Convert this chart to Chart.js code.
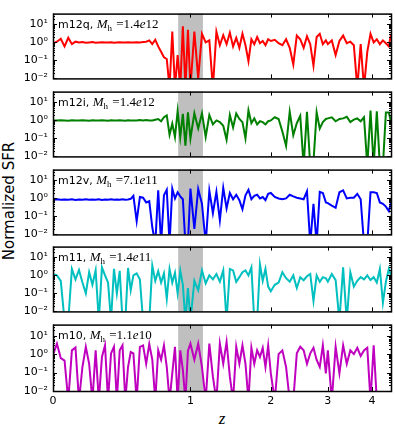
<!DOCTYPE html>
<html>
<head>
<meta charset="utf-8">
<script src="https://cdn.jsdelivr.net/npm/chart.js@4.4.1/dist/chart.umd.min.js"></script>
<style>
  body { margin: 0; background: #fff; }
  #wrap { position: relative; width: 395px; height: 430px; background: #fff; overflow: hidden; }
  #wrap canvas { position: absolute; left: 0; }
  .ytitle { position: absolute; left: 9px; top: 201px; transform: translate(-50%, -50%) rotate(-90deg);
            font: 15px "DejaVu Sans"; white-space: nowrap; color: #000; }
  .xtitle { position: absolute; left: 222px; top: 419px; transform: translate(-50%, -50%);
            font: italic 17px "Liberation Serif"; color: #000; }
</style>
</head>
<body>
<div id="wrap">
  <div class="ytitle">Normalized SFR</div>
  <div class="xtitle">z</div>
</div>
<script>
// redshift of each sample (shared by all panels)
const redshift = [
  0, 0.02, 0.04, 0.06, 0.08, 0.1, 0.12, 0.14, 0.16, 0.18, 0.2, 0.22, 0.24, 0.26, 0.28, 0.3, 0.32, 0.34, 0.36, 0.38, 0.4, 0.42, 0.44, 0.46, 0.48,
  0.5, 0.525, 0.55, 0.575, 0.6, 0.625, 0.65, 0.675, 0.7, 0.725, 0.75, 0.775, 0.8, 0.825, 0.85, 0.875, 0.9, 0.925, 0.95, 0.975,
  1.0, 1.04, 1.08, 1.12, 1.16, 1.2, 1.24, 1.28, 1.32, 1.36, 1.4, 1.44, 1.48, 1.52, 1.56, 1.6, 1.64, 1.68, 1.72, 1.76, 1.8, 1.84, 1.88, 1.92, 1.96,
  2.0, 2.06, 2.12, 2.18, 2.24, 2.3, 2.36, 2.42, 2.48, 2.54, 2.6, 2.66, 2.72, 2.78, 2.84, 2.9, 2.96,
  3.0, 3.08, 3.16, 3.24, 3.32, 3.4, 3.48, 3.56, 3.64, 3.72, 3.8, 3.88, 3.96, 4.04, 4.12, 4.2, 4.28, 4.36, 4.44, 4.5
];

// normalized SFR per halo (values below 0.01 fall off the bottom of the panel)
const sfrM12q = [
  0.9, 1.1, 1.6, 0.6, 1.8, 0.8, 1.1, 1.0, 1.05, 0.95, 1.0, 1.05, 0.97, 1.0, 1.03, 0.98, 1.0, 1.02, 0.97, 1.0, 1.03, 0.98, 1.0, 1.02, 0.98,
  1.0, 1.03, 1.0, 1.05, 1.1, 1.3, 0.8, 1.4, 0.6, 0.3, 0.15, 0.12, 0.003, 4, 0.003, 0.2, 0.003, 8, 0.003, 5,
  0.003, 4, 0.01, 3, 1, 1.3, 0.003, 4, 0.7, 2.5, 0.8, 3.5, 0.6, 1.8, 0.5, 3, 0.7, 0.09, 1.5, 0.8, 2, 0.9, 1.2, 0.7, 1.5,
  1.2, 1.4, 0.9, 0.7, 1.5, 0.5, 0.06, 2.4, 1.5, 0.5, 2.2, 0.8, 0.05, 2, 3, 0.8, 1.3,
  0.8, 1.3, 0.2, 1.2, 2.4, 0.9, 1.1, 0.7, 0.003, 0.8, 0.003, 0.3, 3, 1, 1.5, 0.8, 1.3, 0.9, 0.6, 3
];
const sfrM12i = [
  1.0, 0.98, 1.02, 1.0, 0.97, 1.03, 1.0, 0.98, 1.02, 1.0, 0.97, 1.03, 1.0, 0.98, 1.02, 1.0, 0.97, 1.03, 1.0, 0.98, 1.02, 1.0, 0.97, 1.03, 1.0,
  1.0, 0.98, 1.05, 1.0, 1.05, 1.0, 1.0, 1.1, 1.2, 0.9, 1.5, 1.9, 0.16, 0.66, 0.12, 3.4, 0.12, 2.3, 0.04, 2.8,
  0.1, 2.5, 0.36, 2.5, 0.12, 2, 0.6, 1.0, 0.8, 0.5, 0.085, 2, 0.4, 2.4, 1.2, 0.8, 0.1, 3.6, 0.7, 1.3, 0.6, 0.9, 0.8, 0.6, 0.9,
  1.0, 1.5, 1.2, 0.24, 0.038, 3, 0.15, 0.7, 1.8, 0.003, 3, 0.003, 0.005, 2.8, 0.35, 0.8, 1.2,
  1.3, 1.5, 0.9, 1.2, 1.3, 1.6, 0.8, 1.1, 1.3, 0.9, 1.5, 0.003, 3.5, 0.003, 3.2, 0.003, 0.003, 2.8, 2.8, 0.8
];
const sfrM12v = [
  0.85, 0.9, 0.85, 0.88, 0.85, 0.9, 0.83, 0.88, 0.85, 0.9, 0.85, 0.88, 0.85, 0.9, 0.83, 0.88, 0.85, 0.9, 0.85, 0.88, 0.85, 0.9, 0.85, 0.88, 0.95,
  1.4, 0.055, 1.2, 1.1, 0.6, 0.7, 0.025, 0.003, 2.8, 0.003, 1.5, 3, 0.003, 3.5, 1.0, 2.2, 1.3, 0.9, 0.003, 0.003,
  3.5, 0.02, 3.3, 0.5, 0.003, 2.7, 0.15, 2.3, 0.06, 3.9, 0.28, 2, 0.9, 1.6, 0.8, 0.25, 1.5, 3, 0.9, 1.4, 1.6, 1.0, 1.2, 0.8, 1.8,
  2, 1.2, 1.0, 0.9, 1.0, 1.6, 1.3, 1.1, 1.0, 0.9, 2.5, 0.003, 0.5, 0.003, 2.3, 2, 0.6,
  0.55, 0.4, 0.3, 2.2, 2.8, 1.0, 1.1, 1.1, 1.8, 0.9, 0.003, 0.003, 2.2, 2.2, 2, 0.6, 0.5, 0.35, 0.2, 0.6
];
const sfrM11 = [
  1.2, 1.0, 0.5, 0.003, 0.003, 2.3, 0.6, 2.0, 0.4, 0.1, 1.5, 0.3, 1.9, 0.003, 2.8, 1.0, 0.4, 0.003, 2.3, 0.1, 1.8, 0.003, 0.003, 2.6, 0.15,
  1.0, 1.3, 0.6, 0.003, 0.003, 0.003, 3.5, 0.5, 1.7, 0.4, 1.3, 0.05, 2.3, 0.4, 1.4, 0.1, 1.8, 0.3, 0.003, 0.2,
  0.003, 0.5, 0.15, 1.9, 0.36, 1.0, 0.6, 1.2, 0.45, 1.9, 0.003, 2.3, 1.9, 0.44, 0.8, 1.5, 1.9, 1.0, 2.8, 0.003, 0.003, 4.2, 0.5, 2.3, 0.24,
  0.13, 0.3, 0.4, 1.5, 0.7, 0.45, 1.0, 0.2, 0.8, 0.54, 0.9, 1.2, 0.038, 1.0, 0.44, 0.8, 0.7,
  0.45, 1.2, 0.55, 0.003, 2.8, 0.003, 1.5, 0.24, 0.5, 0.8, 0.6, 1.0, 0.55, 0.8, 0.4, 2.3, 0.03, 0.45, 2.3, 1.0
];
const sfrM10 = [
  0.9, 3.7, 0.6, 0.45, 0.003, 1.6, 2.3, 0.003, 0.2, 2.5, 0.3, 0.003, 1.6, 0.003, 0.7, 3.0, 0.003, 1.1, 2.5, 0.003, 1.6, 3, 0.003, 0.2, 1.3,
  1.1, 0.003, 2.5, 3, 0.3, 3.5, 0.5, 0.003, 1.6, 0.5, 3, 0.2, 0.003, 0.09, 2.5, 0.003, 1.6, 0.14, 0.003, 1.5,
  3.7, 0.5, 3.7, 0.2, 0.003, 3.7, 0.06, 0.003, 3.7, 0.3, 4.6, 0.06, 0.003, 2.5, 0.3, 3, 0.3, 0.003, 2.2, 0.3, 1.6, 0.7, 2.2, 0.2, 3,
  0.09, 0.003, 1.0, 1.6, 0.2, 0.003, 0.003, 1.1, 2.5, 1.6, 0.3, 1.1, 2.2, 0.48, 0.2, 3, 0.09,
  1.6, 0.003, 2.5, 0.09, 3, 0.3, 1.6, 1.0, 2.2, 0.8, 1.6, 2.2, 0.003, 3, 0.003, null, null, null, null, null
];

const haloNames = ['m12q', 'm12i', 'm12v', 'm11', 'm10'];
const haloMasses = ['1.4e12', '1.4e12', '7.1e11', '1.4e11', '1.1e10'];
const haloSeries = [sfrM12q, sfrM12i, sfrM12v, sfrM11, sfrM10];
const haloColors = ['#ff0000', '#008000', '#0000ff', '#00bfbf', '#bf00bf'];

const zTicks = [0, 1, 2, 3, 4];
const zMax = 4.5;
const yTickValues = [0.01, 0.1, 1, 10];
const yTickLabels = ['10⁻²', '10⁻¹', '10⁰', '10¹'];
const yMin = 0.01, yMax = 40;
const bandZ = [0.88, 1.13];

// x axis is linear in log10(1+z)
const lz = z => Math.log10(1 + z);

Chart.defaults.font.family = 'DejaVu Sans';
Chart.defaults.font.size = 10;
Chart.defaults.color = '#000';

const panelTops = [12, 90, 168, 245, 323];
const panelH = 68;
const pad = 10;
const xAxisH = 30;

const bandPlugin = {
  id: 'band',
  beforeDatasetsDraw(chart) {
    const { ctx, chartArea: a, scales: { x } } = chart;
    const x1 = x.getPixelForValue(lz(bandZ[0]));
    const x2 = x.getPixelForValue(lz(bandZ[1]));
    ctx.save();
    ctx.fillStyle = '#bfbfbf';
    ctx.fillRect(x1, a.top, x2 - x1, a.bottom - a.top);
    ctx.restore();
  }
};

// matplotlib-like frame with inward ticks on all four sides
const framePlugin = {
  id: 'frame',
  afterDatasetsDraw(chart) {
    const { ctx, chartArea: a, scales: { x, y } } = chart;
    ctx.save();
    ctx.strokeStyle = '#000';
    ctx.lineWidth = 1;
    ctx.beginPath();
    zTicks.forEach(z => {
      const px = Math.round(x.getPixelForValue(lz(z))) + 0.5;
      ctx.moveTo(px, a.top); ctx.lineTo(px, a.top + 4);
      ctx.moveTo(px, a.bottom); ctx.lineTo(px, a.bottom - 4);
    });
    for (let d = 0.01; d <= 10; d *= 10) {
      for (let m = 1; m <= 9; m++) {
        const v = d * m;
        if (v > yMax) break;
        const py = Math.round(y.getPixelForValue(v)) + 0.5;
        const len = m === 1 ? 4 : 2;
        ctx.moveTo(a.left, py); ctx.lineTo(a.left + len, py);
        ctx.moveTo(a.right, py); ctx.lineTo(a.right - len, py);
      }
    }
    ctx.stroke();
    ctx.lineWidth = 1.5;
    ctx.strokeRect(a.left + 0.5, a.top + 0.5, a.right - a.left, a.bottom - a.top);
    ctx.restore();
  }
};

const labelPlugin = {
  id: 'panelLabel',
  afterDraw(chart, args, opts) {
    const { ctx, chartArea: a } = chart;
    const parts = [
      { t: opts.name + ', ', f: '11px "DejaVu Sans"', dy: 0 },
      { t: 'M', f: 'italic 13px "Liberation Serif"', dy: 0 },
      { t: 'h', f: '9px "Liberation Serif"', dy: 3 },
      { t: ' =', f: '13px "Liberation Serif"', dy: 0 },
      { t: opts.mass.split('e')[0], f: '13px "Liberation Serif"', dy: 0 },
      { t: 'e', f: 'italic 13px "Liberation Serif"', dy: 0 },
      { t: opts.mass.split('e')[1], f: '13px "Liberation Serif"', dy: 0 }
    ];
    ctx.save();
    ctx.fillStyle = '#000';
    ctx.textBaseline = 'alphabetic';
    let px = a.left + 5;
    const base = a.top + 14;
    parts.forEach(p => {
      ctx.font = p.f;
      ctx.fillText(p.t, px, base + p.dy);
      px += ctx.measureText(p.t).width + (p.t === 'h' ? 1 : 0);
    });
    ctx.restore();
  }
};

const wrap = document.getElementById('wrap');

haloSeries.forEach((series, p) => {
  const last = p === haloSeries.length - 1;
  const canvas = document.createElement('canvas');
  const h = pad + panelH + (last ? xAxisH : pad);
  canvas.width = 395;
  canvas.height = h;
  canvas.style.top = (panelTops[p] - pad) + 'px';
  wrap.appendChild(canvas);

  new Chart(canvas, {
    type: 'line',
    data: {
      datasets: [{
        data: redshift.map((z, i) => ({ x: lz(z), y: series[i] })),
        borderColor: haloColors[p],
        borderWidth: 2,
        pointRadius: 0,
        tension: 0,
        spanGaps: false,
        clip: 0
      }]
    },
    options: {
      responsive: false,
      animation: false,
      events: [],
      layout: { padding: { left: 0, right: 4, top: pad, bottom: last ? 0 : pad } },
      plugins: {
        legend: { display: false },
        tooltip: { enabled: false },
        panelLabel: { name: haloNames[p], mass: haloMasses[p] }
      },
      scales: {
        x: {
          type: 'linear',
          min: 0,
          max: lz(zMax),
          display: last,
          grid: { display: false, drawTicks: false },
          border: { display: false },
          afterBuildTicks: s => { s.ticks = zTicks.map(z => ({ value: lz(z) })); },
          afterFit: s => { s.height = last ? xAxisH : 0; },
          ticks: {
            autoSkip: false,
            maxRotation: 0,
            padding: 4,
            font: { size: 11 },
            callback: (v, i) => String(zTicks[i])
          }
        },
        y: {
          type: 'logarithmic',
          min: yMin,
          max: yMax,
          grid: { display: false, drawTicks: false },
          border: { display: false },
          afterBuildTicks: s => { s.ticks = yTickValues.map(v => ({ value: v })); },
          afterFit: s => { s.width = 53; },
          ticks: {
            autoSkip: false,
            padding: 5,
            font: { size: 11 },
            callback: (v, i) => yTickLabels[i]
          }
        }
      }
    },
    plugins: [bandPlugin, framePlugin, labelPlugin]
  });
});
</script>
</body>
</html>
